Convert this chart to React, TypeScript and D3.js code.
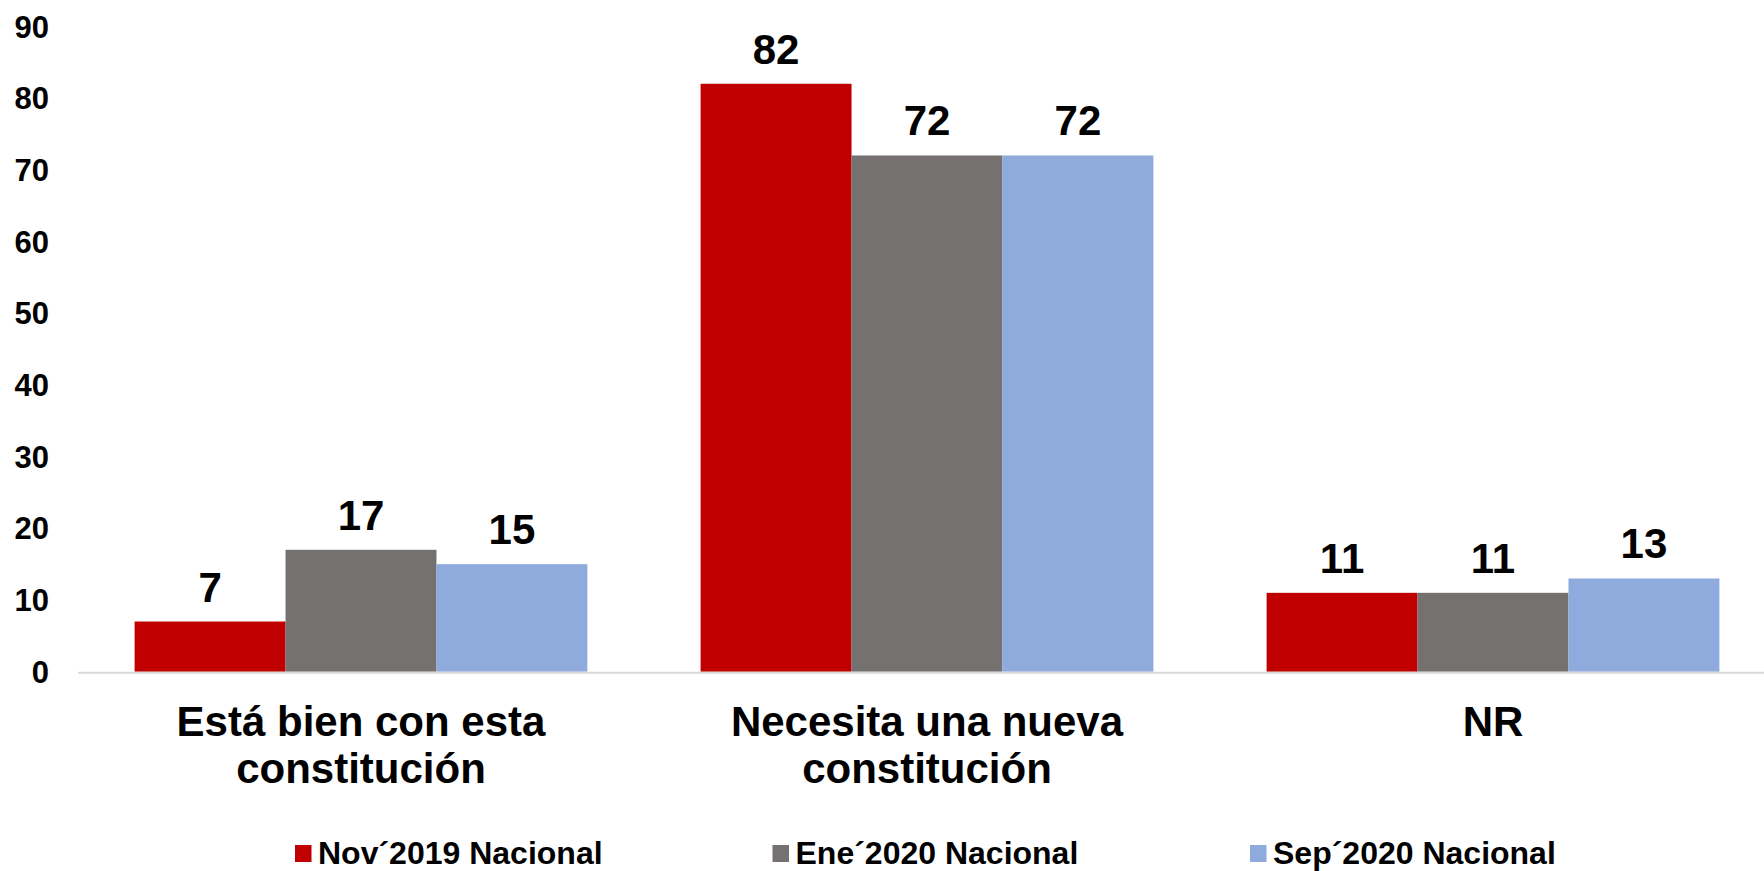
import React from "react";
import * as d3 from "d3";

const categories: string[][] = [
  ["Está bien con esta", "constitución"],
  ["Necesita una nueva", "constitución"],
  ["NR"],
];
const categoryKeys = ["bien", "nueva", "nr"];
const seriesNames = ["Nov´2019 Nacional", "Ene´2020 Nacional", "Sep´2020 Nacional"];
const seriesColors = ["#C00000", "#767171", "#8FAADC"];
const nov2019 = [7, 82, 11];
const ene2020 = [17, 72, 11];
const sep2020 = [15, 72, 13];
const seriesValues = [nov2019, ene2020, sep2020];
const yTicks = [0, 10, 20, 30, 40, 50, 60, 70, 80, 90];

const W = 1764;
const H = 871;
const FONT = "'Liberation Sans', Arial, Helvetica, sans-serif";

export default function App() {
  const x0 = d3
    .scaleBand<string>()
    .domain(categoryKeys)
    .range([78, 1776])
    .paddingInner(0.2)
    .paddingOuter(0.1);
  const x1 = d3
    .scaleBand<number>()
    .domain(seriesNames.map((_, i) => i))
    .range([0, x0.bandwidth()])
    .padding(0);
  const y = d3.scaleLinear().domain([0, 90]).range([671.7, 26.4]);

  const legendX = d3
    .scaleLinear()
    .domain([0, 1])
    .range([295, 295 + 477.5]);

  return (
    <div style={{ position: "absolute", left: 0, top: 0 }}>
      <svg width={W} height={H} style={{ display: "block", background: "#fff" }}>
        {yTicks.map((t) => (
          <text
            key={t}
            x={49}
            y={y(t)}
            dy="0.36em"
            textAnchor="end"
            fontFamily={FONT}
            fontWeight="bold"
            fontSize={31}
            fill="#000"
          >
            {t}
          </text>
        ))}

        {categoryKeys.map((k, ci) => (
          <g key={k} transform={`translate(${x0(k)},0)`}>
            {seriesValues.map((vals, si) => (
              <rect
                key={si}
                x={x1(si)}
                y={y(vals[ci])}
                width={x1.bandwidth()}
                height={y(0) - y(vals[ci])}
                fill={seriesColors[si]}
              />
            ))}
            {seriesValues.map((vals, si) => (
              <text
                key={"l" + si}
                x={(x1(si) as number) + x1.bandwidth() / 2}
                y={y(vals[ci]) - 20}
                textAnchor="middle"
                fontFamily={FONT}
                fontWeight="bold"
                fontSize={42}
                fill="#000"
              >
                {vals[ci]}
              </text>
            ))}
          </g>
        ))}

        <line x1={78} x2={1776} y1={y(0) + 1} y2={y(0) + 1} stroke="#D9D9D9" strokeWidth={2} />

        {categoryKeys.map((k, ci) => (
          <text
            key={"c" + k}
            x={(x0(k) as number) + x0.bandwidth() / 2}
            y={736}
            textAnchor="middle"
            fontFamily={FONT}
            fontWeight="bold"
            fontSize={42}
            fill="#000"
          >
            {categories[ci].map((line, li) => (
              <tspan key={li} x={(x0(k) as number) + x0.bandwidth() / 2} dy={li === 0 ? 0 : 46.5}>
                {line}
              </tspan>
            ))}
          </text>
        ))}

        {seriesNames.map((name, i) => (
          <g key={name} transform={`translate(${legendX(i)},0)`}>
            <rect x={0} y={845} width={16.5} height={17} fill={seriesColors[i]} />
            <text
              x={23}
              y={864}
              fontFamily={FONT}
              fontWeight="bold"
              fontSize={32}
              fill="#000"
            >
              {name}
            </text>
          </g>
        ))}
      </svg>
    </div>
  );
}
